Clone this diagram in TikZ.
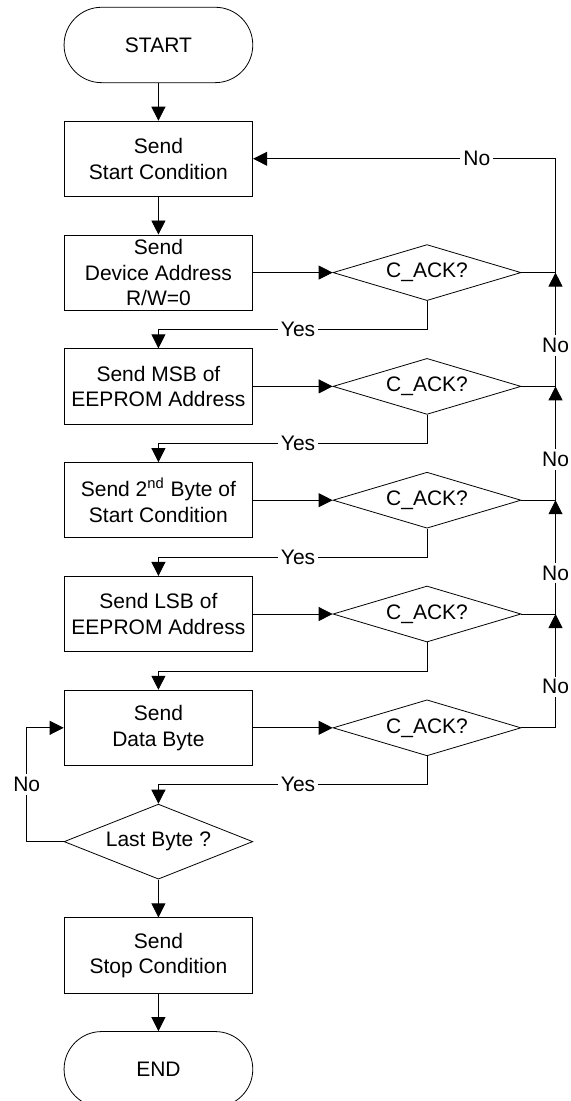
\documentclass[tikz,border=0pt]{standalone}
\usepackage{fontspec}
\setmainfont{Liberation Sans}
\usetikzlibrary{shapes.geometric,arrows.meta}

\begin{document}
\begin{tikzpicture}[
	font=\fontsize{10.5}{12.75}\selectfont,
	proc/.style={rectangle, draw, align=center, inner sep=0pt, minimum width=3.316cm, minimum height=1.323cm},
	term/.style={rectangle, draw, rounded corners=0.66cm, inner sep=0pt, minimum width=3.316cm, minimum height=1.325cm},
	ack/.style={diamond, draw, aspect=3.36, inner sep=0pt, minimum width=3.304cm, minimum height=0.984cm},
	decision/.style={diamond, draw, aspect=2.5, inner sep=0pt, minimum width=3.316cm, minimum height=1.318cm},
	flow/.style={-{Triangle[length=7pt,width=7pt]}},
	lbl/.style={fill=white, inner sep=1.5pt}
]
	\useasboundingbox (0,0) rectangle (10.034,-19.348);

	\node[term] (start) at (2.784,-0.79) {START};
	\node[proc] (s1) at (2.784,-2.79) {Send\\Start Condition};
	\node[proc] (s2) at (2.784,-4.79) {Send\\Device Address\\R/W=0};
	\node[proc] (s3) at (2.784,-6.79) {Send MSB of\\EEPROM Address};
	\node[proc] (s4) at (2.784,-8.79) {Send 2\textsuperscript{nd} Byte of\\Start Condition};
	\node[proc] (s5) at (2.784,-10.79) {Send LSB of\\EEPROM Address};
	\node[proc] (s6) at (2.784,-12.79) {Send\\Data Byte};
	\node[decision] (last) at (2.784,-14.79) {Last Byte ?};
	\node[proc] (stop) at (2.784,-16.79) {Send\\Stop Condition};
	\node[term] (end) at (2.784,-18.79) {END};

	\node[ack] (c1) at (7.504,-4.79) {C\_ACK?};
	\node[ack] (c2) at (7.504,-6.79) {C\_ACK?};
	\node[ack] (c3) at (7.504,-8.79) {C\_ACK?};
	\node[ack] (c4) at (7.504,-10.79) {C\_ACK?};
	\node[ack] (c5) at (7.504,-12.79) {C\_ACK?};

	\coordinate (j1) at (2.784,-5.79);
	\coordinate (j2) at (2.784,-7.79);
	\coordinate (j3) at (2.784,-9.79);
	\coordinate (j4) at (2.784,-11.79);
	\coordinate (j5) at (2.784,-13.79);
	\coordinate (r1) at (9.762,-4.79);
	\coordinate (r2) at (9.762,-6.79);
	\coordinate (r3) at (9.762,-8.79);
	\coordinate (r4) at (9.762,-10.79);
	\coordinate (l1) at (0.469,-14.79);

	\draw[flow] (start) -- (s1);
	\draw[flow] (s1) -- (s2);
	% device address
	\draw[flow] (s2.east) -- (c1.west);
	\draw[flow] (c1.south) |- node[lbl, pos=0.74] {Yes} (j1) -- (s3.north);
	\draw[flow] (c1.east) -- (r1) |- node[lbl, pos=0.63] {No} (s1.east);
	% MSB
	\draw[flow] (s3.east) -- (c2.west);
	\draw[flow] (c2.south) |- node[lbl, pos=0.74] {Yes} (j2) -- (s4.north);
	\draw[flow] (c2.east) -| node[lbl, pos=0.68] {No} (r1);
	% 2nd byte
	\draw[flow] (s4.east) -- (c3.west);
	\draw[flow] (c3.south) |- node[lbl, pos=0.74] {Yes} (j3) -- (s5.north);
	\draw[flow] (c3.east) -| node[lbl, pos=0.68] {No} (r2);
	% LSB
	\draw[flow] (s5.east) -- (c4.west);
	\draw[flow] (c4.south) |- (j4) -- (s6.north);
	\draw[flow] (c4.east) -| node[lbl, pos=0.68] {No} (r3);
	% data byte
	\draw[flow] (s6.east) -- (c5.west);
	\draw[flow] (c5.south) |- node[lbl, pos=0.74] {Yes} (j5) -- (last.north);
	\draw[flow] (c5.east) -| node[lbl, pos=0.68] {No} (r4);
	\draw[flow] (last.west) -- (l1) |- node[lbl, pos=0.25] {No} (s6.west);
	\draw[flow] (last) -- (stop);
	\draw[flow] (stop) -- (end);
\end{tikzpicture}
\end{document}
